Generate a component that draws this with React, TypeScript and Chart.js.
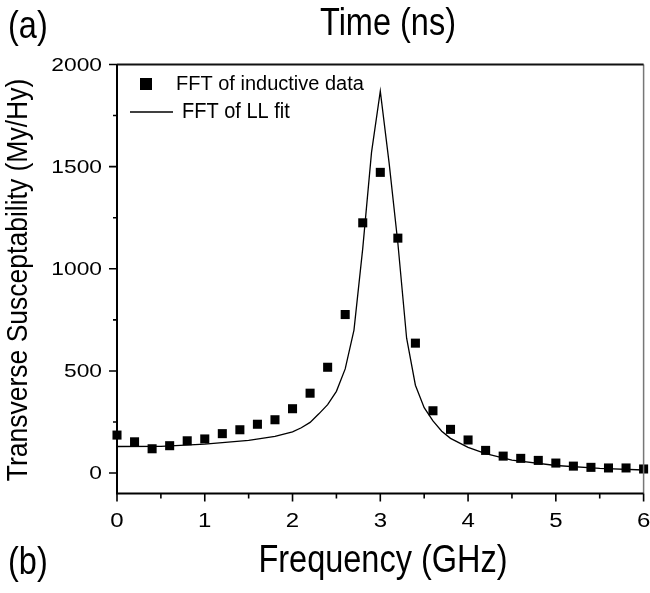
import React, { useEffect, useRef } from "react";
import { Chart, registerables } from "chart.js";

Chart.register(...registerables);

// Measured data (FFT of inductive data)
const dataFreq = [0, 0.2, 0.4, 0.6, 0.8, 1.0, 1.2, 1.4, 1.6, 1.8, 2.0, 2.2, 2.4, 2.6, 2.8, 3.0, 3.2, 3.4, 3.6, 3.8, 4.0, 4.2, 4.4, 4.6, 4.8, 5.0, 5.2, 5.4, 5.6, 5.8, 6.0];
const dataSus = [186, 153, 119, 134, 158, 167, 193, 212, 239, 261, 315, 391, 518, 776, 1225, 1472, 1150, 636, 305, 214, 162, 111, 83, 72, 62, 49, 34, 28, 25, 25, 20];

// FFT of LL fit (line)
const fitFreq = [0, 0.5, 1.0, 1.5, 1.8, 2.0, 2.1, 2.2, 2.3, 2.4, 2.5, 2.6, 2.7, 2.8, 2.9, 3.0, 3.1, 3.2, 3.3, 3.4, 3.5, 3.6, 3.7, 3.8, 4.0, 4.2, 4.5, 5.0, 5.5, 6.0];
const fitSus = [130, 131, 142, 160, 180, 202, 222, 248, 290, 335, 400, 510, 700, 1100, 1570, 1870, 1520, 1126, 660, 430, 320, 255, 205, 170, 126, 95, 63, 37, 23, 15];

const xMajorTicks = [0, 1, 2, 3, 4, 5, 6];
const xMinorTicks = [0.5, 1.5, 2.5, 3.5, 4.5, 5.5];
const yMajorTicks = [0, 500, 1000, 1500, 2000];
const yMinorTicks = [250, 750, 1250, 1750];

const labelData = "FFT of inductive data";
const labelFit = "FFT of LL fit";
const topTitle = "Time (ns)";
const xTitle = "Frequency (GHz)";
const yTitle = "Transverse Susceptability (My/Hy)";

const FONT = '"Liberation Sans", Arial, Helvetica, sans-serif';

function txt(
  ctx: CanvasRenderingContext2D,
  s: string,
  x: number,
  y: number,
  size: number,
  sx: number,
  sy: number,
  align: CanvasTextAlign,
  rot = 0
) {
  ctx.save();
  ctx.translate(x, y);
  if (rot) ctx.rotate(rot);
  ctx.scale(sx, sy);
  ctx.font = `${size}px ${FONT}`;
  ctx.textAlign = align;
  ctx.textBaseline = "middle";
  ctx.fillStyle = "#000";
  ctx.fillText(s, 0, 0);
  ctx.restore();
}

const decorPlugin = {
  id: "decor",
  afterDraw(chart: any) {
    const ctx: CanvasRenderingContext2D = chart.ctx;
    const { left, right, top, bottom } = chart.chartArea;
    const xs = chart.scales.x;
    const ys = chart.scales.y;
    ctx.save();
    // frame
    ctx.strokeStyle = "#777";
    ctx.lineWidth = 1.5;
    ctx.beginPath();
    ctx.moveTo(right, top);
    ctx.lineTo(right, bottom);
    ctx.stroke();
    ctx.strokeStyle = "#111";
    ctx.lineWidth = 2;
    ctx.beginPath();
    ctx.moveTo(left, top);
    ctx.lineTo(right, top);
    ctx.stroke();
    ctx.strokeStyle = "#000";
    ctx.beginPath();
    ctx.moveTo(left, top);
    ctx.lineTo(left, bottom);
    ctx.lineTo(right, bottom);
    ctx.stroke();

    // ticks
    ctx.lineWidth = 1.6;
    ctx.beginPath();
    for (const v of xMajorTicks) {
      const px = xs.getPixelForValue(v);
      ctx.moveTo(px, bottom);
      ctx.lineTo(px, bottom + 8);
    }
    for (const v of xMinorTicks) {
      const px = xs.getPixelForValue(v);
      ctx.moveTo(px, bottom);
      ctx.lineTo(px, bottom + 5);
    }
    for (const v of yMajorTicks) {
      const py = ys.getPixelForValue(v);
      ctx.moveTo(left, py);
      ctx.lineTo(left - 8, py);
    }
    for (const v of yMinorTicks) {
      const py = ys.getPixelForValue(v);
      ctx.moveTo(left, py);
      ctx.lineTo(left - 4, py);
    }
    ctx.stroke();

    // tick labels
    for (const v of xMajorTicks) {
      txt(ctx, String(v), xs.getPixelForValue(v), 521, 20, 1.2, 1, "center");
    }
    for (const v of yMajorTicks) {
      txt(ctx, String(v), 102, ys.getPixelForValue(v) + 1, 19, 1.2, 1, "right");
    }

    // titles
    txt(ctx, topTitle, 388, 24, 32.5, 1, 1.2, "center");
    txt(ctx, "(a)", 8, 27, 32.5, 1, 1.2, "left");
    txt(ctx, xTitle, 383, 561, 32.5, 1, 1.2, "center");
    txt(ctx, "(b)", 8, 563, 32.5, 1, 1.2, "left");
    txt(ctx, yTitle, 19, 280, 26.5, 1, 1.08, "center", -Math.PI / 2);

    // legend
    ctx.fillStyle = "#000";
    ctx.fillRect(140, 78, 12, 12);
    txt(ctx, labelData, 176, 84, 20, 1, 1.05, "left");
    ctx.strokeStyle = "#000";
    ctx.lineWidth = 1.3;
    ctx.beginPath();
    ctx.moveTo(130, 112);
    ctx.lineTo(173, 112);
    ctx.stroke();
    txt(ctx, labelFit, 182, 112, 20, 1, 1.1, "left");
    ctx.restore();
  },
};

export default function App() {
  const ref = useRef<HTMLCanvasElement | null>(null);
  useEffect(() => {
    if (!ref.current) return;
    const chart = new Chart(ref.current, {
      type: "scatter",
      data: {
        datasets: [
          {
            label: labelFit,
            data: fitFreq.map((x, i) => ({ x, y: fitSus[i] })),
            showLine: true,
            borderColor: "#000",
            borderWidth: 1.3,
            pointRadius: 0,
            tension: 0,
          },
          {
            label: labelData,
            data: dataFreq.map((x, i) => ({ x, y: dataSus[i] })),
            showLine: false,
            pointStyle: "rect",
            pointRadius: 6.4,
            pointBorderWidth: 0,
            backgroundColor: "#000",
            borderColor: "#000",
            clip: false,
          } as any,
        ],
      },
      options: {
        animation: false,
        responsive: false,
        layout: { padding: { top: 64.5, right: 4, left: 0, bottom: 0 } },
        plugins: { legend: { display: false }, tooltip: { enabled: false } },
        scales: {
          x: {
            type: "linear",
            min: 0,
            max: 6,
            ticks: { display: false },
            grid: { display: false },
            border: { display: false },
            afterFit: (s: any) => {
              s.height = 99.5;
              s.paddingLeft = 0;
              s.paddingRight = 0;
            },
          },
          y: {
            type: "linear",
            min: -100,
            max: 2000,
            ticks: { display: false },
            grid: { display: false },
            border: { display: false },
            afterFit: (s: any) => {
              s.width = 117;
              s.paddingTop = 0;
              s.paddingBottom = 0;
            },
          },
        },
      },
      plugins: [decorPlugin],
    });
    return () => chart.destroy();
  }, []);
  return (
    <div style={{ position: "fixed", left: 0, top: 0, width: 650, height: 593, background: "#fff" }}>
      <canvas ref={ref} width={650} height={593} style={{ display: "block" }} />
    </div>
  );
}
